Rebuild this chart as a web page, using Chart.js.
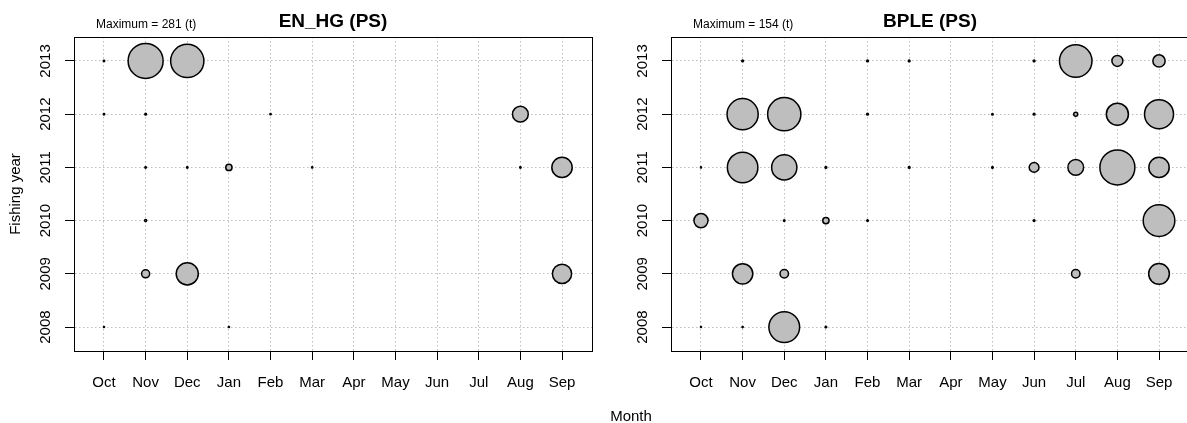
<!DOCTYPE html>
<html>
<head>
<meta charset="utf-8">
<script src="https://cdn.jsdelivr.net/npm/chart.js@4"></script>
<style>
    body { margin: 0; width: 1187px; height: 423px; overflow: hidden; background: #fff; position: relative;
           font-family: 'Liberation Sans', Arial, sans-serif; }
    canvas { position: absolute; top: 0; }
    #xTitle { position: absolute; left: 631px; top: 415px; transform: translate(-50%, -50%); font-size: 15px; color: #000; white-space: nowrap; }
</style>
</head>
<body>
<canvas id="enhgChart" width="600" height="423" style="left:0px"></canvas>
<canvas id="bpleChart" width="600" height="423" style="left:597px"></canvas>
<div id="xTitle">Month</div>
<script>
// Month and fishing year categories
const months = ['Oct', 'Nov', 'Dec', 'Jan', 'Feb', 'Mar', 'Apr', 'May', 'Jun', 'Jul', 'Aug', 'Sep'];
const years = [2008, 2009, 2010, 2011, 2012, 2013];

// Catch (t) per fishing year (rows 2008..2013) and month (Oct..Sep), null = no catch
const enhgCatch = [
    [0.3, null, null, 0.3, null, null, null, null, null, null, null, null],
    [null, 15, 112, null, null, null, null, null, null, null, null, 85],
    [null, 1.0, null, null, null, null, null, null, null, null, null, null],
    [null, 0.5, 0.5, 9, null, 0.4, null, null, null, null, 0.5, 95],
    [0.5, 0.6, null, null, 0.4, null, null, null, null, null, 57, null],
    [0.5, 281, 254, null, null, null, null, null, null, null, null, null]
];

const bpleCatch = [
    [0.15, 0.2, 119, 0.3, null, null, null, null, null, null, null, null],
    [null, 52, 9, null, null, null, null, null, null, 9, null, 54],
    [25, null, 0.3, 5, 0.3, null, null, null, 0.4, null, null, 126],
    [0.15, 117, 80, 0.4, null, 0.4, null, 0.3, 12, 31, 154, 52],
    [null, 122, 139, null, 0.4, null, null, 0.3, 0.4, 2, 61, 106],
    [null, 0.4, null, null, 0.4, 0.4, null, null, 0.4, 133, 15, 19]
];

const FONT = "'Liberation Sans', Arial, sans-serif";
const MAX_RADIUS = 17.5;
Chart.defaults.font.family = FONT;
Chart.defaults.color = '#000';

// Frame round the plot area plus panel title and maximum note
const panelFrame = {
    id: 'panelFrame',
    afterDraw(chart, args, opts) {
        const {ctx, chartArea: a} = chart;
        ctx.save();
        ctx.strokeStyle = '#000';
        ctx.lineWidth = 1;
        ctx.strokeRect(Math.round(a.left) + 0.5, Math.round(a.top) + 0.5,
            Math.round(a.right - a.left), Math.round(a.bottom - a.top));
        ctx.fillStyle = '#000';
        ctx.textBaseline = 'middle';
        ctx.textAlign = 'center';
        ctx.font = 'bold 19px ' + FONT;
        ctx.fillText(opts.title, (a.left + a.right) / 2, 22);
        ctx.textAlign = 'left';
        ctx.font = '12px ' + FONT;
        ctx.fillText('Maximum = ' + opts.max + ' (t)', a.left + 22, 25);
        ctx.restore();
    }
};

function makeChart(id, title, table, showYTitle) {
    const maxValue = Math.max(...table.flat().filter(v => v !== null));
    const points = [];
    table.forEach((row, yi) => {
        row.forEach((v, mi) => {
            if (v === null) return;
            points.push({x: mi + 1, y: years[yi], r: MAX_RADIUS * Math.sqrt(v / maxValue)});
        });
    });

    return new Chart(document.getElementById(id), {
        type: 'bubble',
        data: {
            datasets: [{
                data: points,
                backgroundColor: '#BEBEBE',
                borderColor: '#000',
                borderWidth: 1.5
            }]
        },
        plugins: [panelFrame],
        options: {
            responsive: false,
            animation: false,
            events: [],
            layout: { autoPadding: false, padding: { left: 3, right: 8, top: 37, bottom: 0 } },
            plugins: {
                legend: { display: false },
                tooltip: { enabled: false },
                title: { display: false },
                panelFrame: { title: title, max: maxValue }
            },
            scales: {
                x: {
                    type: 'linear',
                    min: 0.28,
                    max: 12.72,
                    afterBuildTicks: axis => { axis.ticks = months.map((m, i) => ({value: i + 1})); },
                    afterFit: axis => {
                        axis.height = 72;
                        axis.paddingLeft = 0;
                        axis.paddingRight = 0;
                    },
                    grid: { color: '#bdbdbd', lineWidth: 1, tickColor: '#000', tickLength: 9, tickWidth: 1 },
                    border: { display: true, color: '#000', dash: [1.5, 2.5] },
                    ticks: {
                        autoSkip: false,
                        maxRotation: 0,
                        padding: 14,
                        font: { size: 15 },
                        callback: v => months[v - 1]
                    }
                },
                y: {
                    type: 'linear',
                    min: 2007.55,
                    max: 2013.45,
                    afterBuildTicks: axis => { axis.ticks = years.map(y => ({value: y})); },
                    afterFit: axis => {
                        axis.width = 71;
                        axis.paddingTop = 0;
                        axis.paddingBottom = 0;
                    },
                    grid: { color: '#bdbdbd', lineWidth: 1, tickColor: '#000', tickLength: 9, tickWidth: 1 },
                    border: { display: true, color: '#000', dash: [1.5, 2.5] },
                    title: {
                        display: showYTitle,
                        text: 'Fishing year',
                        font: { size: 15 },
                        padding: { top: 4, bottom: 4 }
                    },
                    ticks: {
                        minRotation: 90,
                        maxRotation: 90,
                        crossAlign: 'center',
                        padding: 2,
                        font: { size: 15 },
                        callback: v => String(v)
                    }
                }
            }
        }
    });
}

makeChart('enhgChart', 'EN_HG (PS)', enhgCatch, true);
makeChart('bpleChart', 'BPLE (PS)', bpleCatch, false);
</script>
</body>
</html>
